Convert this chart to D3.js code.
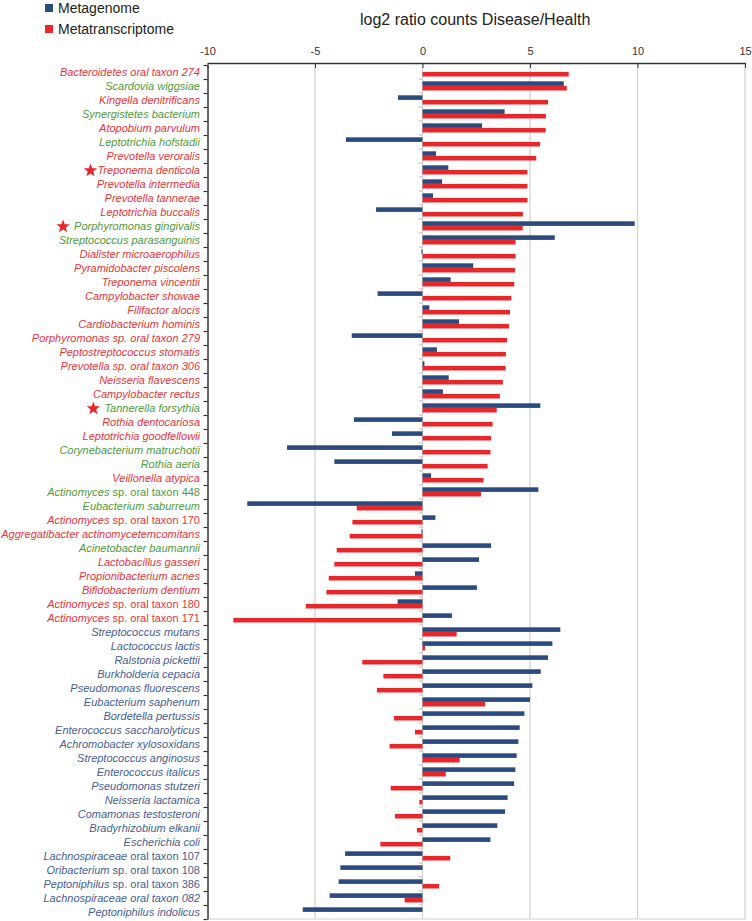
<!DOCTYPE html>
<html><head><meta charset="utf-8">
<script src="https://cdn.jsdelivr.net/npm/d3@7"></script>
<style>body{margin:0;background:#fff;} svg{display:block;font-family:"Liberation Sans",Arial,sans-serif;}</style>
</head><body>
<script>
const categories = [
"Bacteroidetes oral taxon 274","Scardovia wiggsiae","Kingella denitrificans","Synergistetes bacterium","Atopobium parvulum",
"Leptotrichia hofstadii","Prevotella veroralis","Treponema denticola","Prevotella intermedia","Prevotella tannerae",
"Leptotrichia buccalis","Porphyromonas gingivalis","Streptococcus parasanguinis","Dialister microaerophilus","Pyramidobacter piscolens",
"Treponema vincentii","Campylobacter showae","Filifactor alocis","Cardiobacterium hominis","Porphyromonas sp. oral taxon 279",
"Peptostreptococcus stomatis","Prevotella sp. oral taxon 306","Neisseria flavescens","Campylobacter rectus","Tannerella forsythia",
"Rothia dentocariosa","Leptotrichia goodfellowii","Corynebacterium matruchotii","Rothia aeria","Veillonella atypica",
"Actinomyces sp. oral taxon 448","Eubacterium saburreum","Actinomyces sp. oral taxon 170","Aggregatibacter actinomycetemcomitans","Acinetobacter baumannii",
"Lactobacillus gasseri","Propionibacterium acnes","Bifidobacterium dentium","Actinomyces sp. oral taxon 180","Actinomyces sp. oral taxon 171",
"Streptococcus mutans","Lactococcus lactis","Ralstonia pickettii","Burkholderia cepacia","Pseudomonas fluorescens",
"Eubacterium saphenum","Bordetella pertussis","Enterococcus saccharolyticus","Achromobacter xylosoxidans","Streptococcus anginosus",
"Enterococcus italicus","Pseudomonas stutzeri","Neisseria lactamica","Comamonas testosteroni","Bradyrhizobium elkanii",
"Escherichia coli","Lachnospiraceae oral taxon 107","Oribacterium sp. oral taxon 108","Peptoniphilus sp. oral taxon 386","Lachnospiraceae oral taxon 082",
"Peptoniphilus indolicus"];

// label colour group: r = red, g = green, b = blue
const labelGroup = [
"r","g","r","g","r","g","r","r","r","r",
"r","g","g","r","r","r","r","r","r","r",
"r","r","r","r","g","r","r","g","g","r",
"g","g","r","r","g","r","r","r","r","r",
"b","b","b","b","b","b","b","b","b","b",
"b","b","b","b","b","b","b","b","b","b",
"b"];

const starred = ["Treponema denticola","Porphyromonas gingivalis","Tannerella forsythia"];
// names whose suffix after the genus is set upright
const uprightSuffix = ["Actinomyces sp. oral taxon 448","Actinomyces sp. oral taxon 170","Actinomyces sp. oral taxon 180",
"Actinomyces sp. oral taxon 171","Lachnospiraceae oral taxon 107","Oribacterium sp. oral taxon 108","Peptoniphilus sp. oral taxon 386"];

const metagenome = [
0, 6.57, -1.14, 3.82, 2.77, -3.56, 0.63, 1.20, 0.91, 0.49,
-2.16, 9.87, 6.15, -0.05, 2.36, 1.31, -2.09, 0.32, 1.70, -3.29,
0.67, 0.09, 1.22, 0.95, 5.48, -3.19, -1.42, -6.30, -4.10, 0.40,
5.39, -8.15, 0.60, -0.05, 3.19, 2.63, -0.35, 2.53, -1.16, 1.37,
6.41, 6.04, 5.84, 5.50, 5.11, 5.00, 4.74, 4.52, 4.46, 4.38,
4.32, 4.26, 3.96, 3.84, 3.48, 3.16, -3.60, -3.82, -3.90, -4.32,
-5.57];

const metatranscriptome = [
6.80, 6.71, 5.84, 5.74, 5.73, 5.47, 5.29, 4.88, 4.88, 4.88,
4.67, 4.66, 4.33, 4.33, 4.30, 4.27, 4.13, 4.07, 4.02, 3.93,
3.88, 3.87, 3.74, 3.60, 3.45, 3.26, 3.19, 3.16, 3.03, 2.84,
2.72, -3.06, -3.26, -3.39, -3.99, -4.10, -4.36, -4.47, -5.43, -8.80,
1.59, 0.12, -2.80, -1.82, -2.12, 2.91, -1.33, -0.35, -1.53, 1.73,
1.08, -1.48, -0.15, -1.28, -0.26, -1.96, 1.29, 0, 0.77, -0.83,
0];

const xTicks = [-10, -5, 0, 5, 10, 15];
const xTickLabels = ["-10", "-5", "0", "5", "10", "15"];
const seriesNames = ["Metagenome", "Metatranscriptome"];
const title = "log2 ratio counts Disease/Health";

const W = 752, H = 921;
const colBlue = "#2b4a7e", colRed = "#e8272b";
const labelColors = {r: "#e8353b", g: "#4f9a3c", b: "#46608f"};

const svg = d3.select("body").append("svg").attr("width", W).attr("height", H);

const x = d3.scaleLinear().domain([-10, 15]).range([207.5, 745]);
const plotTop = 65, plotBottom = 919;
const y = d3.scaleBand().domain(categories).range([plotTop, plotBottom]).padding(0);
const yLin = d3.scaleLinear().domain([0, categories.length]).range([plotTop, plotBottom]);
const bw = y.bandwidth();

// gridlines
svg.append("g").selectAll("line").data(xTicks.filter(d => d > -10)).join("line")
  .attr("x1", d => x(d)).attr("x2", d => x(d)).attr("y1", 63).attr("y2", plotBottom)
  .attr("stroke", "#cfcfcf").attr("stroke-width", 1.2);
svg.append("line").attr("x1", x(-10)).attr("x2", x(15)).attr("y1", plotBottom).attr("y2", plotBottom)
  .attr("stroke", "#cfcfcf").attr("stroke-width", 1.2);

// grey ticks at zero
svg.append("g").selectAll("line").data(d3.range(1, categories.length)).join("line")
  .attr("x1", x(0) - 4).attr("x2", x(0)).attr("y1", d => yLin(d)).attr("y2", d => yLin(d))
  .attr("stroke", "#bbb").attr("stroke-width", 1);

// bars
const g = svg.append("g");
g.selectAll("rect.mg").data(categories).join("rect").attr("class", "mg")
  .attr("x", (d, i) => x(Math.min(0, metagenome[i])))
  .attr("width", (d, i) => Math.abs(x(metagenome[i]) - x(0)))
  .attr("y", d => y(d) + 2.3).attr("height", 4.6).attr("fill", colBlue);
g.selectAll("rect.mt").data(categories).join("rect").attr("class", "mt")
  .attr("x", (d, i) => x(Math.min(0, metatranscriptome[i])))
  .attr("width", (d, i) => Math.abs(x(metatranscriptome[i]) - x(0)))
  .attr("y", d => y(d) + 6.9).attr("height", 4.6).attr("fill", colRed);

// top axis
const xAxis = d3.axisTop(x).tickValues(xTicks).tickFormat((d, i) => xTickLabels[i])
  .tickSizeInner(-5).tickSizeOuter(0).tickPadding(8);
const ax = svg.append("g").attr("transform", `translate(0,63)`).call(xAxis);
ax.select(".domain").attr("stroke", "#333").attr("stroke-width", 1.5);
ax.selectAll(".tick line").attr("stroke", "#333");
ax.selectAll(".tick text").attr("font-size", 11).attr("fill", "#333")
  .attr("font-family", "Liberation Sans, Arial, sans-serif");

// left axis with ticks at row boundaries
const yAxis = d3.axisLeft(yLin).tickValues(d3.range(0, categories.length + 1)).tickFormat("").tickSizeInner(4).tickSizeOuter(0);
const ay = svg.append("g").attr("transform", `translate(${x(-10)},0)`).call(yAxis);
ay.select(".domain").attr("stroke", "#333").attr("stroke-width", 1.5);
ay.selectAll(".tick line").attr("stroke", "#333").attr("stroke-width", 1.2);

// labels
const labels = svg.append("g").selectAll("text").data(categories).join("text")
  .attr("x", 200).attr("y", d => y(d) + bw / 2 + 4)
  .attr("text-anchor", "end").attr("font-size", 11)
  .attr("fill", (d, i) => labelColors[labelGroup[i]]);
labels.each(function(d) {
  const t = d3.select(this);
  if (uprightSuffix.includes(d)) {
    const k = d.indexOf(" ");
    t.append("tspan").attr("font-style", "italic").text(d.slice(0, k));
    t.append("tspan").text(d.slice(k));
  } else {
    t.append("tspan").attr("font-style", "italic").text(d);
  }
});

// stars
function starPath(cx, cy, R, r) {
  const pts = [];
  for (let k = 0; k < 10; k++) {
    const a = -Math.PI / 2 + k * Math.PI / 5;
    const rr = k % 2 === 0 ? R : r;
    pts.push([cx + rr * Math.cos(a), cy + rr * Math.sin(a)]);
  }
  return "M" + pts.map(p => p.join(",")).join("L") + "Z";
}
labels.filter(d => starred.includes(d)).each(function(d) {
  const bb = this.getBBox();
  const gap = d === "Treponema denticola" ? 7 : 11;
  svg.append("path").attr("d", starPath(bb.x - gap, y(d) + bw / 2 + 0.5, 7, 2.9)).attr("fill", "#e8272b");
});

// legend
const lg = svg.append("g");
[colBlue, colRed].forEach((c, i) => {
  lg.append("rect").attr("x", 45).attr("y", 4 + i * 21).attr("width", 8).attr("height", 8).attr("fill", c);
  lg.append("text").attr("x", 58).attr("y", 13 + i * 21).attr("font-size", 14).attr("fill", "#222").text(seriesNames[i]);
});

// title
svg.append("text").attr("x", 360).attr("y", 25).attr("font-size", 16).attr("fill", "#222").text(title);
</script>
</body></html>
